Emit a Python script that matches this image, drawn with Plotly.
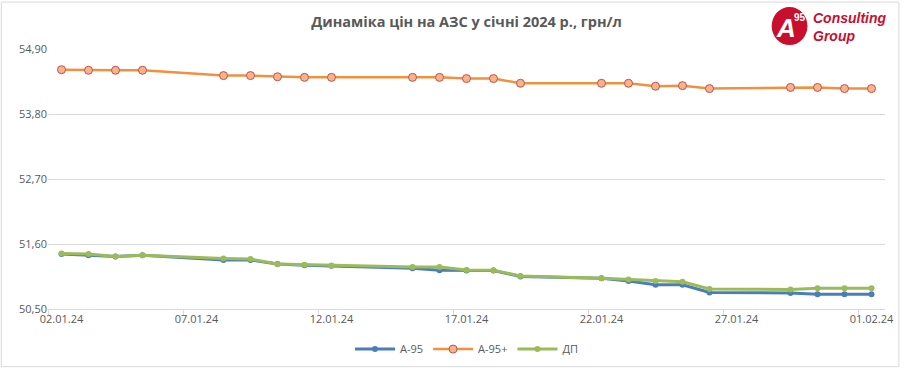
import plotly.graph_objects as go
import pandas as pd

dates = ["2024-01-02", "2024-01-03", "2024-01-04", "2024-01-05", "2024-01-08", "2024-01-09",
         "2024-01-10", "2024-01-11", "2024-01-12", "2024-01-15", "2024-01-16", "2024-01-17",
         "2024-01-18", "2024-01-19", "2024-01-22", "2024-01-23", "2024-01-24", "2024-01-25",
         "2024-01-26", "2024-01-29", "2024-01-30", "2024-01-31", "2024-02-01"]
a95 = [51.43, 51.41, 51.39, 51.41, 51.33, 51.33, 51.26, 51.24, 51.23, 51.19, 51.155, 51.15,
       51.15, 51.05, 51.02, 50.975, 50.91, 50.91, 50.78, 50.77, 50.75, 50.75, 50.75]
a95p = [54.55, 54.54, 54.54, 54.54, 54.45, 54.45, 54.43, 54.42, 54.42, 54.42, 54.42, 54.40,
        54.40, 54.32, 54.32, 54.32, 54.27, 54.28, 54.23, 54.25, 54.25, 54.23, 54.23]
dp = [51.44, 51.43, 51.39, 51.41, 51.355, 51.345, 51.26, 51.25, 51.23, 51.21, 51.21, 51.16,
      51.155, 51.06, 51.02, 51.00, 50.975, 50.96, 50.84, 50.83, 50.85, 50.85, 50.85]
tick_dates = ["2024-01-02", "2024-01-07", "2024-01-12", "2024-01-17", "2024-01-22", "2024-01-27", "2024-02-01"]
tick_labels = ["02.01.24", "07.01.24", "12.01.24", "17.01.24", "22.01.24", "27.01.24", "01.02.24"]
y_ticks = [50.50, 51.60, 52.70, 53.80, 54.90]

x = pd.to_datetime(dates)

fig = go.Figure()
fig.add_trace(go.Scatter(x=x, y=a95, name="А-95", mode="lines+markers",
                         line=dict(color="#4A7EBB", width=3),
                         marker=dict(size=6, color="#4A7EBB", line=dict(width=0))))
fig.add_trace(go.Scatter(x=x, y=a95p, name="А-95+", mode="lines+markers",
                         line=dict(color="#F0913F", width=2.5),
                         marker=dict(size=8, color="#F7B48A", line=dict(width=1, color="#C0504D"))))
fig.add_trace(go.Scatter(x=x, y=dp, name="ДП", mode="lines+markers",
                         line=dict(color="#9BBB59", width=3),
                         marker=dict(size=6, color="#9BBB59", line=dict(width=0))))

L, R, T, B = 48, 16, 49, 61
W, H = 906, 376
pw, ph = W - L - R, H - T - B


def px(xv):
    return (xv - L) / pw


def py(yv):
    return (H - B - yv) / ph


fig.update_layout(
    width=W, height=H,
    margin=dict(l=L, r=R, t=T, b=B),
    paper_bgcolor="white", plot_bgcolor="white",
    separators=", ",
    font=dict(family="Open Sans, sans-serif", size=11, color="#595959"),
    title=dict(text="<b>Динаміка цін на АЗС у січні 2024 р., грн/л</b>",
               x=0.5, xref="paper", xanchor="center", y=1 - 22 / H, yanchor="middle",
               font=dict(size=14.5, color="#595959", family="Open Sans, sans-serif")),
    showlegend=True,
    legend=dict(orientation="h", x=0.5, xanchor="center", y=py(356), yanchor="middle",
                font=dict(size=11, color="#595959"), itemwidth=40, tracegroupgap=0),
    xaxis=dict(type="date",
               range=["2024-01-01 12:00", "2024-02-01 12:00"],
               tickvals=pd.to_datetime(tick_dates), ticktext=tick_labels,
               ticks="", showgrid=False, showline=True, linecolor="#D9D9D9", linewidth=1,
               tickfont=dict(size=11, color="#595959"),
               minor=dict(ticks="outside", ticklen=5, tickcolor="#D9D9D9",
                          tick0="2024-01-01 12:00", dtick=5 * 86400000, showgrid=False),
               zeroline=False),
    yaxis=dict(range=[50.50, 54.90], tickvals=y_ticks, tickformat=".2f",
               showgrid=True, gridcolor="#D9D9D9", gridwidth=1, zeroline=False,
               showline=False, ticks="", tickfont=dict(size=11, color="#595959")),
)

# outer frame
fig.add_shape(type="rect", xref="paper", yref="paper",
              x0=px(1), x1=px(904), y0=py(374), y1=py(1),
              line=dict(color="#D9D9D9", width=1), layer="below")

# logo
fig.add_shape(type="circle", xref="paper", yref="paper",
              x0=px(776), x1=px(812), y0=py(45), y1=py(6),
              fillcolor="#C8102E", line=dict(width=0))
fig.add_annotation(text="<b><i>A</i></b>", xref="paper", yref="paper", x=px(790), y=py(28),
                   showarrow=False, font=dict(size=26, color="white", family="Liberation Sans"),
                   xanchor="center", yanchor="middle")
fig.add_annotation(text="<b>95</b>", xref="paper", yref="paper", x=px(804), y=py(17),
                   showarrow=False, font=dict(size=10, color="white", family="Liberation Sans"),
                   xanchor="center", yanchor="middle")
fig.add_annotation(text="<b><i>Consulting<br>Group</i></b>", xref="paper", yref="paper",
                   x=px(816), y=py(27), align="left",
                   showarrow=False, font=dict(size=14, color="#C8102E", family="Liberation Sans Narrow, Liberation Sans"),
                   xanchor="left", yanchor="middle")

fig.write_html("out.html")
